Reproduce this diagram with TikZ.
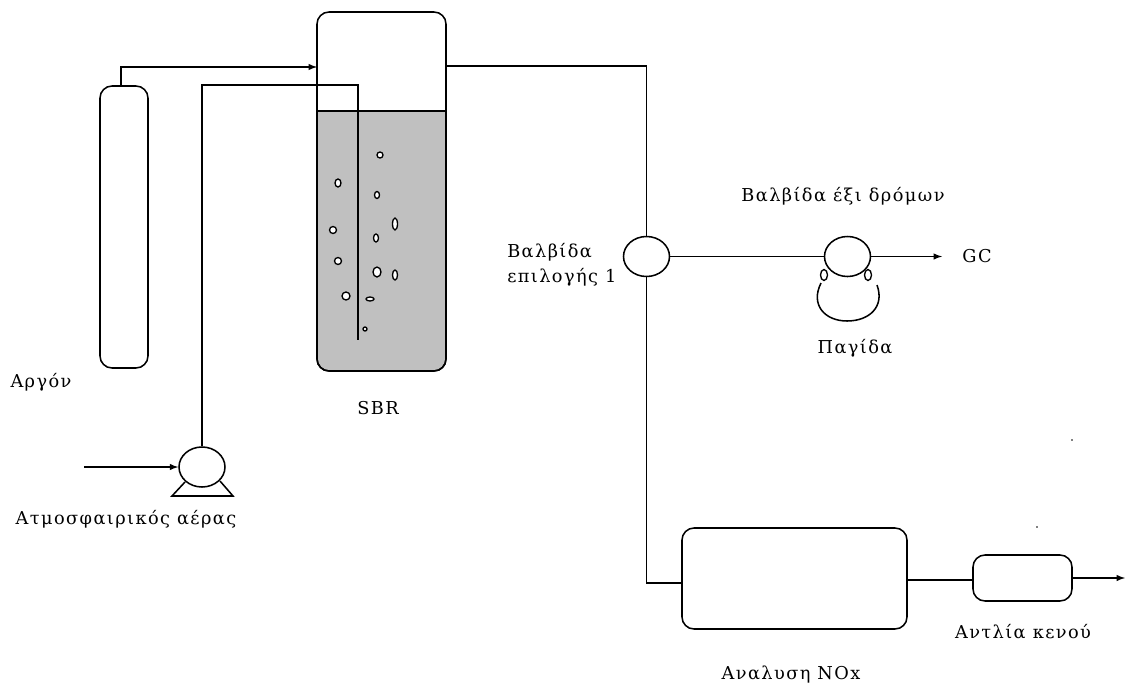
\documentclass[tikz,border=0pt]{standalone}
\usepackage{fontspec}
\setmainfont[LetterSpace=8]{DejaVu Serif}
\usetikzlibrary{shapes.geometric}
\definecolor{liquid}{RGB}{192,192,192}
\tikzset{
  pipe/.style={line width=1.15pt},
  flow/.style={pipe,-latex},
  vessel/.style 2 args={draw,line width=1.15pt,rectangle,rounded corners=9pt,inner sep=0pt,minimum width=#1*0.75pt,minimum height=#2*0.75pt},
  valve/.style={draw,line width=1.15pt,ellipse,inner sep=0pt,minimum width=46*0.75pt,minimum height=40*0.75pt},
  tag/.style={inner sep=0pt,font=\fontsize{13.3pt}{16pt}\selectfont},
  bubble/.style={draw,fill=white,line width=1pt}
}
\begin{document}
\begin{tikzpicture}[x=0.75pt,y=-0.75pt]
  \useasboundingbox (0,0) rectangle (1125,689);

  % Liquid in the reactor
  \filldraw[pipe,fill=liquid] (317,111) [rounded corners=9pt] -- (317,371) -- (446,371) [sharp corners] -- (446,111) -- cycle;

  % Vessels
  \node[vessel={129}{359}] (sbr) at (381.5,191.5) {};
  \node[vessel={48}{282}] (argon) at (124,227) {};
  \node[vessel={225}{101}] (nox) at (794.5,578.5) {};
  \node[vessel={99}{46}] (vacuum) at (1022.5,578) {};

  % Valves and pump
  \node[valve] (pump) at (202,467) {};
  \node[valve] (selector) at (646.5,256.5) {};
  \node[valve] (sixway) at (847.5,256.5) {};
  \draw[pipe] (185,482) -- (172,496) -- (233,496) -- (220,481);

  % Free ends
  \coordinate (argonin) at (317,67);
  \coordinate (sbrout) at (446,66);
  \coordinate (airin) at (84,467);
  \coordinate (airturn) at (358,85);
  \coordinate (airend) at (358,340);
  \coordinate (noxin) at (682,583);
  \coordinate (noxout) at (907,580);
  \coordinate (vacin) at (973,580);
  \coordinate (gcend) at (942,256.5);
  \coordinate (ventstart) at (1072,578);
  \coordinate (ventend) at (1125,578);
  \coordinate (trapl) at (821,283);
  \coordinate (trapr) at (877,285);

  % Connections
  \draw[flow] (121,86) |- (argonin);
  \draw[pipe] (pump.north) -- (pump.north |- airturn) -- (airturn) -- (airend);
  \draw[flow] (airin) -- (pump.west);
  \draw[pipe] (sbrout) -| (selector.north);
  \draw[pipe] (selector.south) |- (noxin);
  \draw[pipe] (selector.east) -- (sixway.west);
  \draw[flow] (sixway.east) -- (gcend);
  \draw[pipe] (noxout) -- (vacin);
  \draw[flow] (ventstart) -- (ventend);

  % Trap loop
  \draw[pipe] (trapl) .. controls (810,305) and (825,321) .. (847,321) .. controls (869,321) and (885,307) .. (trapr);
  \draw[bubble] (824,275) circle [x radius=3.5, y radius=5.5];
  \draw[bubble] (868,275) circle [x radius=3.5, y radius=5.5];

  % Bubbles
  \foreach \x/\y/\rx/\ry in {380/155/3/3, 338/183/3/4, 377/195/2.5/3.5, 395/224/2.5/6, 376/238/2.5/4,
      333/230/3.5/3.5, 338/261/3.5/3.5, 377/272/4/5, 395/275/2.5/5, 346/296/4/4, 370/299/4/2, 365/329/2/2}
    \draw[bubble] (\x,\y) circle [x radius=\rx, y radius=\ry];

  % Stray dots
  \fill (1072,440) circle [radius=0.8];
  \fill (1037,527) circle [radius=0.8];

  % Labels
  \node[tag] (argonlabel) at (41,382) {Αργόν};
  \node[tag] (sbrlabel) at (378,408) {SBR};
  \node[tag] (airlabel) at (126,519) {Ατμοσφαιρικός αέρας};
  \node[tag,anchor=west] (selectorlabel) at (507,252) {Βαλβίδα};
  \node[tag,anchor=west] (selectorlabelb) at (507,277) {επιλογής 1};
  \node[tag] (sixwaylabel) at (843,196) {Βαλβίδα έξι δρόμων};
  \node[tag] (gclabel) at (977,256) {GC};
  \node[tag] (traplabel) at (855,348) {Παγίδα};
  \node[tag] (noxlabel) at (791,675) {Αναλυση NOx};
  \node[tag] (vacuumlabel) at (1023,632) {Αντλία κενού};
\end{tikzpicture}
\end{document}
